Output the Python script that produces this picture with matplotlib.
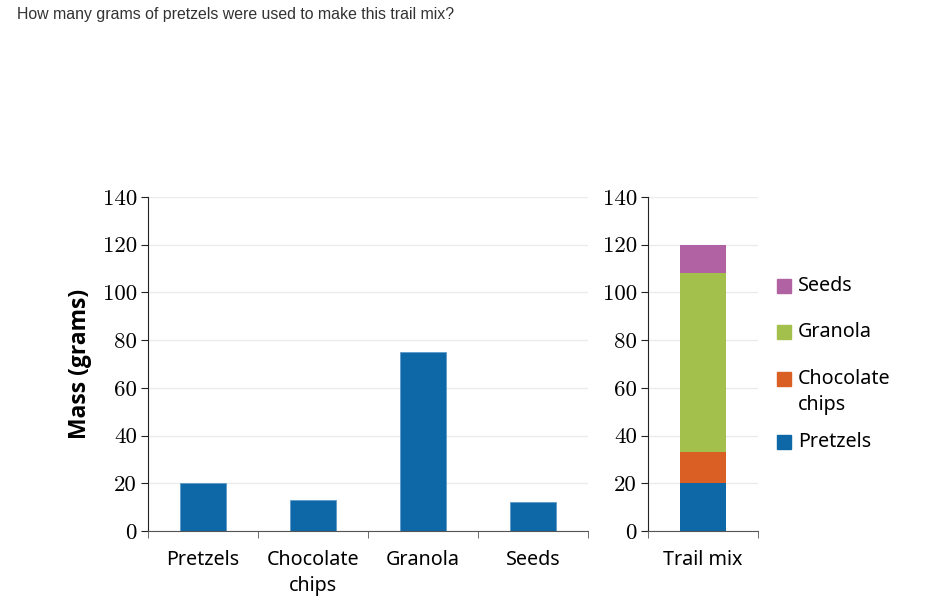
import matplotlib.pyplot as plt
from matplotlib.patches import Rectangle

# data
categories = ['Pretzels', 'Chocolate\nchips', 'Granola', 'Seeds']
masses = [20, 13, 75, 12]
colors = ['#0e67a6', '#d95f25', '#a3bf4c', '#b062a3']
yticks = [0, 20, 40, 60, 80, 100, 120, 140]

fig = plt.figure(figsize=(9.3, 6.13), dpi=100)

fig.text(17/930, 1 - 14/613, 'How many grams of pretzels were used to make this trail mix?',
         family='Liberation Sans', fontsize=11.45, color='#333333', va='center')

ax1 = fig.add_axes([148/930, 1 - 531/613, 440/930, 334/613])
ax2 = fig.add_axes([648/930, 1 - 531/613, 110/930, 334/613])

label_font = 'Noto Sans'
fs = 14.2


def style(ax):
    ax.set_ylim(0, 140)
    ax.set_yticks(yticks)
    ax.set_yticklabels([str(t) for t in yticks], family='cmr10', fontsize=16.5)
    ax.grid(axis='y', color='#ebebeb', lw=1)
    ax.set_axisbelow(True)
    for s in ['top', 'right']:
        ax.spines[s].set_visible(False)
    ax.spines['left'].set_color('#222222')
    ax.spines['bottom'].set_color('#555555')
    ax.tick_params(axis='y', length=5, color='#222222', pad=3)
    ax.tick_params(axis='x', which='major', length=0, pad=14, labelsize=fs)
    ax.tick_params(axis='x', which='minor', length=5, color='#555555')


# individual ingredients
x = list(range(len(categories)))
ax1.bar(x, masses, width=0.42, color=colors[0], edgecolor='#5d9cc9', lw=0.6)
ax1.set_xlim(-0.5, len(categories) - 0.5)
ax1.set_xticks(x)
ax1.set_xticklabels(categories, family=label_font, linespacing=1.4)
ax1.set_xticks([i - 0.5 for i in range(len(categories) + 1)], minor=True)
style(ax1)
ax1.set_ylabel('Mass (grams)', family='Open Sans', fontweight='bold', fontsize=16.5, labelpad=8)

# stacked trail mix
bottom = 0
for m, c in zip(masses, colors):
    ax2.bar([0], [m], bottom=bottom, width=0.42, color=c)
    bottom += m
ax2.set_xlim(-0.5, 0.5)
ax2.set_xticks([0])
ax2.set_xticklabels(['Trail mix'], family=label_font)
ax2.set_xticks([-0.5, 0.5], minor=True)
style(ax2)

# legend (top to bottom: Seeds, Granola, Chocolate chips, Pretzels)
legend_y = [286, 332, 379, 442]
order = [3, 2, 1, 0]
for yy, i in zip(legend_y, order):
    fig.patches.append(Rectangle(((777)/930, 1 - (yy + 7)/613), 14/930, 14/613,
                                 transform=fig.transFigure, color=colors[i]))
    label = categories[i]
    fig.text(798/930, 1 - yy/613, label.split('\n')[0], family=label_font,
             fontsize=fs, va='center')
    if '\n' in label:
        fig.text(798/930, 1 - (yy + 26)/613, label.split('\n')[1], family=label_font,
                 fontsize=fs, va='center')

fig.savefig('out.png', dpi=100)
